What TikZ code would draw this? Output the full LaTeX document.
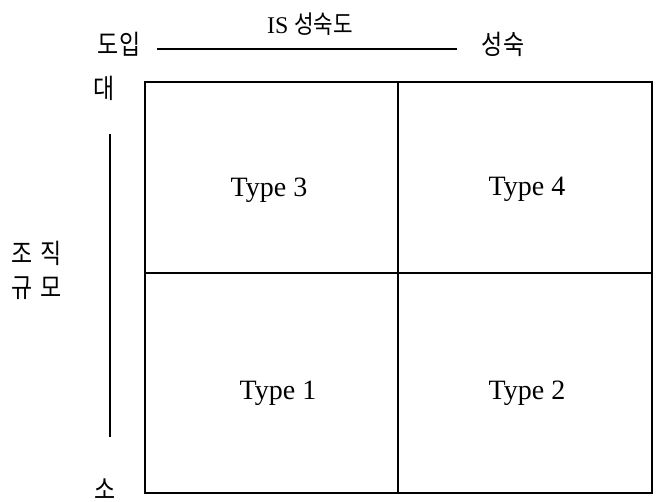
\documentclass[tikz,border=0pt]{standalone}
\usepackage{fontspec}
\setmainfont{Liberation Serif}
\newfontfamily\kr[FakeStretch=0.85]{Noto Sans CJK KR}
\begin{document}
\begin{tikzpicture}[x=1pt,y=-1pt,
  krlabel/.style={font=\kr\fontsize{27}{30}\selectfont, inner sep=0pt},
  typelabel/.style={font=\fontsize{28}{30}\selectfont, inner sep=0pt},
  axisline/.style={line width=1.6pt},
  gridline/.style={line width=1.7pt}]
\useasboundingbox (0,0) rectangle (666,502);
% title
\node[inner sep=0pt] (title) at (310,24) {\fontsize{24}{26}\selectfont IS {\kr\fontsize{25}{26}\selectfont 성숙도}};
\node[krlabel] (doip) at (119,44) {도입};
\node[krlabel] (mature) at (503,44) {성숙};
\coordinate (hl) at (157,49);
\coordinate (hr) at (457,49);
\draw[axisline] (hl) -- (hr);
% left axis
\node[krlabel] (dae) at (104,88) {대};
\node[krlabel] (so) at (105,489) {소};
\node[krlabel, align=center] (size) at (37,270) {조\hspace{8pt}직\\[4pt]규\hspace{8pt}모};
\coordinate (vt) at (110,134);
\coordinate (vb) at (110,437);
\draw[axisline] (vt) -- (vb);
% grid
\coordinate (g1) at (145,82);
\coordinate (g2) at (652,493);
\draw[gridline] (g1) rectangle (g2);
\draw[gridline] (398,82) -- (398,493);
\draw[gridline] (145,273) -- (652,273);
% types
\node[typelabel] (t3) at (269,190) {Type 3};
\node[typelabel] (t4) at (527,189) {Type 4};
\node[typelabel] (t1) at (278,393) {Type 1};
\node[typelabel] (t2) at (527,393) {Type 2};
\end{tikzpicture}
\end{document}
